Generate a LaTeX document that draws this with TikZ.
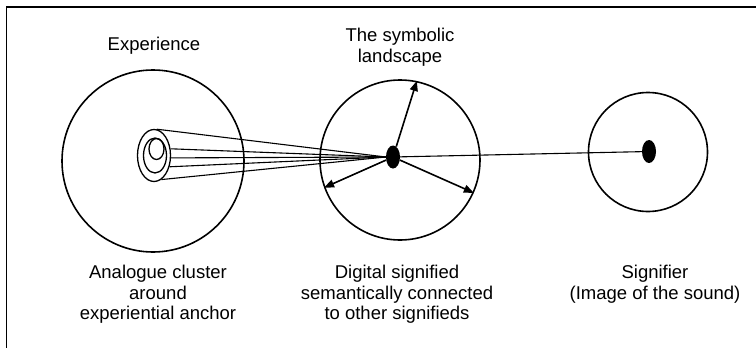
\documentclass[tikz,border=0pt]{standalone}
\usepackage{fontspec}
\setmainfont{Liberation Sans}
\usetikzlibrary{arrows.meta,shapes.geometric}

\begin{document}
\begin{tikzpicture}[x=1pt,y=-1pt,
  font=\fontsize{18.5}{20.5}\selectfont,
  ring/.style={draw,circle,line width=1.6pt,inner sep=0pt},
  coil/.style={draw,ellipse,line width=1.3pt,inner sep=0pt},
  dot/.style={ellipse,fill=black,inner sep=0pt,minimum width=14pt,minimum height=23pt},
  lbl/.style={anchor=north,inner sep=0pt,align=center},
  arr/.style={-{Triangle[length=10pt,width=8pt]},line width=1.6pt},
  ray/.style={line width=1.1pt}]
\useasboundingbox (0,0) rectangle (756,348);
\draw[line width=1.4pt] (6.5,348) -- (6.5,7) -- (756,7);
% the three fields
\node[ring,minimum size=182pt] (exp) at (153,161) {};
\node[ring,minimum size=160pt] (sym) at (400,160) {};
\node[ring,minimum size=119pt] (sig) at (648,152) {};
% experiential anchor
\node[coil,minimum width=33pt,minimum height=52pt] (outer) at (154,155.5) {};
\node[coil,minimum width=23pt,minimum height=35pt] (mid) at (155,155.5) {};
\node[coil,minimum width=15pt,minimum height=21pt] (inner) at (156.5,149) {};
\node[dot] (sd) at (393,157) {};
\node[dot] (rd) at (649,151.5) {};
\foreach \a in {84,22,-8,-36,-73} \draw[ray] (outer.\a) -- (sd.west);
\draw[ray] (sd) -- (rd);
\draw[arr] (sd) -- (sym.78);
\draw[arr] (sd) -- (sym.200);
\draw[arr] (sd) -- (sym.-24);
% labels
\node[lbl] (t1) at (154,37) {Experience};
\node[lbl] (t2) at (400,28) {The symbolic\\landscape};
\node[lbl] (b1) at (158,265) {Analogue cluster\\around\\experiential anchor};
\node[lbl] (b2) at (397,265) {Digital signified\\semantically connected\\to other signifieds};
\node[lbl] (b3) at (655,265) {Signifier\\(Image of the sound)};
\end{tikzpicture}
\end{document}
